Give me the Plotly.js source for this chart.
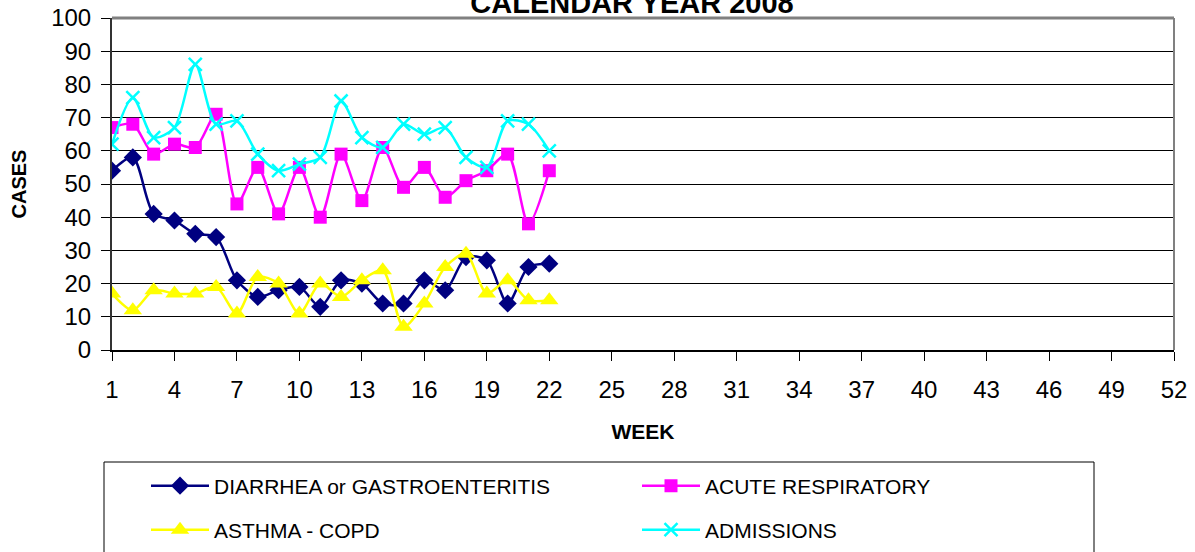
<!DOCTYPE html>
<html><head><meta charset="utf-8">
<script src="https://cdn.plot.ly/plotly-3.0.1.min.js"></script>
<style>html,body{margin:0;padding:0;background:#fff}#chart{width:1195px;height:552px}</style>
</head><body><div id="chart"></div>
<script>
const weeks = Array.from({length: 22}, (_, i) => i + 1);
const diarrhea = [54, 58, 41, 39, 35, 34, 21, 16, 18, 19, 13, 21, 20, 14, 14, 21, 18, 28, 27, 14, 25, 26];
const acuteResp = [67, 68, 59, 62, 61, 71, 44, 55, 41, 55, 40, 59, 45, 61, 49, 55, 46, 51, 54, 59, 38, 54];
const asthma = [17, 12, 18, 17, 17, 19, 11, 22, 20, 11, 20, 16, 21, 24, 7, 14, 25, 29, 17, 21, 15, 15];
const admissions = [62, 76, 64, 67, 86, 68, 69, 59, 54, 56, 58, 75, 64, 61, 68, 65, 67, 58, 55, 69, 68, 60];
const xTicks = [1, 4, 7, 10, 13, 16, 19, 22, 25, 28, 31, 34, 37, 40, 43, 46, 49, 52];
const yTicks = [0, 10, 20, 30, 40, 50, 60, 70, 80, 90, 100];

const F = 'Liberation Sans, Arial, sans-serif';
function tr(name, y, color, symbol, size, legendId, open) {
  return {
    type: 'scatter', mode: 'lines+markers', name: name, x: weeks, y: y, legend: legendId,
    line: {color: color, width: 2.5, shape: 'spline', smoothing: 0.8},
    marker: {color: color, symbol: symbol, size: size, line: {width: open ? 2.5 : 0, color: color}}
  };
}
const data = [
  tr('DIARRHEA or GASTROENTERITIS', diarrhea, '#000080', 'diamond', 14, 'legend'),
  tr('ACUTE RESPIRATORY', acuteResp, '#FF00FF', 'square', 13, 'legend'),
  tr('ASTHMA - COPD', asthma, '#FFFF00', 'triangle-up', 16, 'legend2'),
  tr('ADMISSIONS', admissions, '#00FFFF', 'x-thin-open', 13, 'legend2', true)
];
const legBase = {
  orientation: 'h', x: 146/1195, xref: 'container', xanchor: 'left', yref: 'container', yanchor: 'middle',
  entrywidth: 418, entrywidthmode: 'pixels', itemwidth: 58,
  font: {family: F, size: 21, color: '#000'}, bgcolor: 'rgba(0,0,0,0)', borderwidth: 0
};
const layout = {
  width: 1195, height: 552,
  margin: {l: 112, r: 21, t: 18, b: 202},
  paper_bgcolor: '#fff', plot_bgcolor: '#fff',
  font: {family: F, color: '#000'},
  title: {text: '<b>CALENDAR YEAR 2008</b>', font: {family: F, size: 29, color: '#000'},
          xref: 'container', x: 632/1195, xanchor: 'center', yref: 'container', y: 1 - 3/552, yanchor: 'middle'},
  xaxis: {
    range: [1, 52], tickvals: xTicks, ticktext: xTicks.map(String),
    ticks: 'outside', ticklen: 9, tickwidth: 1, tickcolor: '#000', ticklabelstandoff: 8,
    showline: true, linecolor: '#000', linewidth: 2, showgrid: false, zeroline: false,
    tickfont: {family: F, size: 24, color: '#000'},
    title: {text: '<b>WEEK</b>', font: {family: F, size: 21, color: '#000'}, standoff: 23}
  },
  yaxis: {
    range: [0, 100], tickvals: yTicks,
    ticks: 'outside', ticklen: 9, tickwidth: 1, tickcolor: '#000', ticklabelstandoff: 5,
    showline: true, linecolor: '#333', linewidth: 2,
    showgrid: true, gridcolor: '#000', gridwidth: 1, zeroline: false,
    tickfont: {family: F, size: 24, color: '#000'},
    title: {text: '<b>CASES</b>', font: {family: F, size: 20, color: '#000'}, standoff: 19}
  },
  shapes: [
    {type: 'line', xref: 'paper', yref: 'paper', x0: 0, x1: 1, y0: 1, y1: 1, line: {color: '#808080', width: 3}},
    {type: 'line', xref: 'paper', yref: 'paper', x0: 1, x1: 1, y0: 0, y1: 1, line: {color: '#808080', width: 2}},
    {type: 'rect', xref: 'paper', yref: 'paper', x0: -8/1062, x1: 982/1062, y0: -112/332, y1: -210/332,
     line: {color: '#000', width: 1}, fillcolor: 'rgba(0,0,0,0)'}
  ],
  showlegend: true,
  legend: Object.assign({}, legBase, {y: 1 - 486/552}),
  legend2: Object.assign({}, legBase, {y: 1 - 530/552})
};
Plotly.newPlot('chart', data, layout, {displayModeBar: false, staticPlot: true});
</script></body></html>
